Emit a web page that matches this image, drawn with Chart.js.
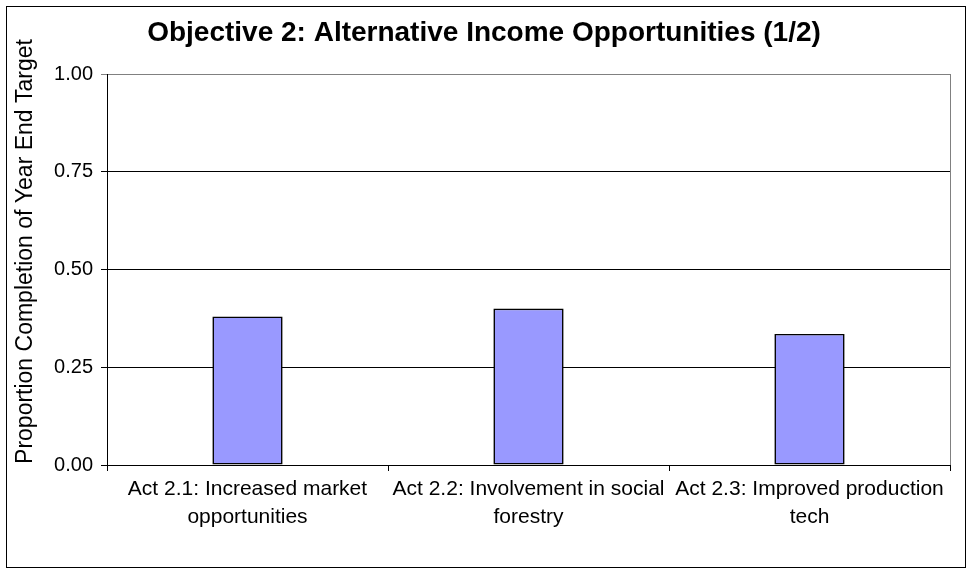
<!DOCTYPE html>
<html>
<head>
<meta charset="utf-8">
<script src="https://cdn.jsdelivr.net/npm/chart.js@4.4.1/dist/chart.umd.min.js"></script>
<style>
  html, body { margin: 0; padding: 0; background: #fff; }
  #wrap { width: 970px; height: 571px; position: relative; }
</style>
</head>
<body>
<div id="wrap"><canvas id="c" width="970" height="571"></canvas></div>
<script>
const chartTitle = "Objective 2: Alternative Income Opportunities (1/2)";
const yAxisTitle = "Proportion Completion of Year End Target";
const categories = [
  ["Act 2.1: Increased market", "opportunities"],
  ["Act 2.2: Involvement in social", "forestry"],
  ["Act 2.3: Improved production", "tech"]
];
const values = [0.38, 0.40, 0.335];
const yTicks = [0, 0.25, 0.5, 0.75, 1.0];

const FONT = "'Liberation Sans', Arial, sans-serif";

const framePlugin = {
  id: 'frame',
  beforeDraw(chart) {
    const ctx = chart.ctx;
    ctx.save();
    ctx.fillStyle = '#fff';
    ctx.fillRect(0, 0, chart.width, chart.height);
    ctx.strokeStyle = '#000';
    ctx.lineWidth = 1;
    ctx.strokeRect(6.5, 6.5, 959, 561);
    ctx.restore();
  },
  afterDraw(chart) {
    const ctx = chart.ctx;
    const a = chart.chartArea;
    ctx.save();
    // right plot border
    ctx.strokeStyle = '#808080';
    ctx.lineWidth = 1;
    ctx.beginPath();
    ctx.moveTo(Math.round(a.right) + 0.5, a.top);
    ctx.lineTo(Math.round(a.right) + 0.5, a.bottom);
    ctx.stroke();
    // chart title
    ctx.fillStyle = '#000';
    ctx.font = "bold 28px " + FONT;
    ctx.textAlign = 'center';
    ctx.textBaseline = 'middle';
    ctx.fillText(chartTitle, 484, 33);
    // y axis title
    ctx.translate(32, 251.5);
    ctx.rotate(-Math.PI / 2);
    ctx.font = "23px " + FONT;
    ctx.textAlign = 'center';
    ctx.textBaseline = 'alphabetic';
    ctx.fillText(yAxisTitle, 0, 0);
    ctx.restore();
  }
};

new Chart(document.getElementById('c'), {
  type: 'bar',
  data: {
    labels: categories,
    datasets: [{
      data: values,
      backgroundColor: '#9999FF',
      borderColor: '#000000',
      borderWidth: 1.6,
      borderSkipped: false,
      categoryPercentage: 1.0,
      barPercentage: 0.25
    }]
  },
  options: {
    responsive: false,
    animation: false,
    devicePixelRatio: 1,
    layout: { padding: { top: 74, right: 20, bottom: 26, left: 0 } },
    plugins: {
      legend: { display: false },
      tooltip: { enabled: false },
      title: { display: false }
    },
    scales: {
      x: {
        offset: true,
        grid: {
          offset: true,
          drawOnChartArea: false,
          drawTicks: true,
          tickLength: 6,
          color: '#000'
        },
        border: { display: true, color: '#000', width: 1 },
        ticks: {
          color: '#000',
          font: { family: FONT, size: 21, lineHeight: 1.3 },
          maxRotation: 0,
          autoSkip: false,
          padding: 5
        },
        afterFit(scale) { scale.height = 80; }
      },
      y: {
        min: 0,
        max: 1,
        afterBuildTicks(scale) { scale.ticks = yTicks.map(v => ({ value: v })); },
        grid: {
          drawTicks: true,
          tickLength: 6,
          color: (c) => (c.tick && c.tick.value === 1 ? '#808080' : '#000')
        },
        border: { display: true, color: '#000', width: 1 },
        ticks: {
          color: '#000',
          font: { family: FONT, size: 20 },
          padding: 8,
          callback: (v) => Number(v).toFixed(2)
        },
        title: { display: false },
        afterFit(scale) { scale.width = 107; }
      }
    }
  },
  plugins: [framePlugin]
});
</script>
</body>
</html>
